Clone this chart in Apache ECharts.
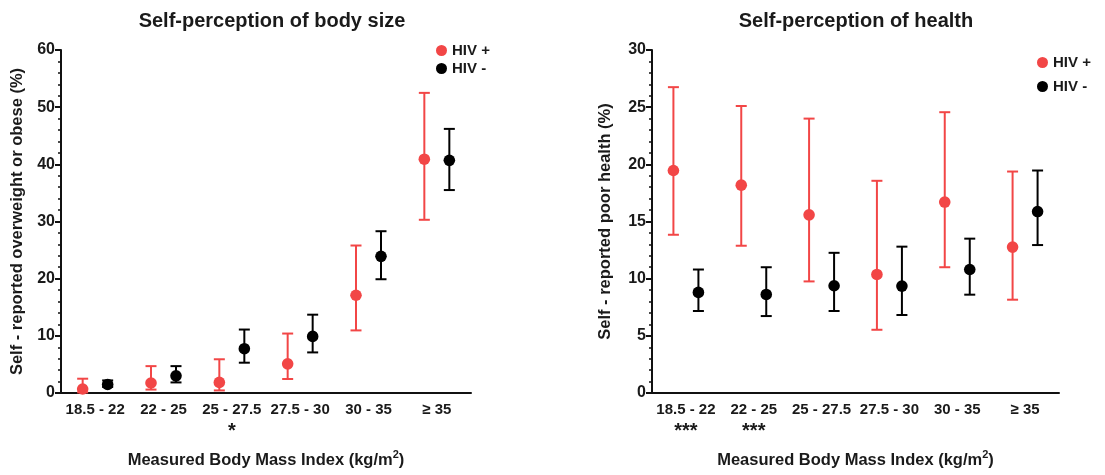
<!DOCTYPE html>
<html>
<head>
<meta charset="utf-8">
<script src="https://cdn.jsdelivr.net/npm/echarts@6/dist/echarts.min.js"></script>
<style>html,body{margin:0;padding:0;background:#fff;}#c{width:1105px;height:475px;}</style>
</head>
<body>
<div id="c"></div>
<script>
// ---- Data ----
const categories = ['18.5 - 22', '22 - 25', '25 - 27.5', '27.5 - 30', '30 - 35', '≥ 35'];

// Self-perception of body size (% self-reported overweight or obese)
const bodyPos     = [0.7, 1.75, 1.85, 5.1, 17.1, 40.9];
const bodyPosLow  = [0.1, 0.6, 0.45, 2.45, 10.95, 30.3];
const bodyPosHigh = [2.5, 4.7, 5.9, 10.4, 25.8, 52.5];
const bodyNeg     = [1.5, 3.0, 7.75, 9.9, 23.9, 40.7];
const bodyNegLow  = [1.05, 1.85, 5.3, 7.1, 19.9, 35.5];
const bodyNegHigh = [2.2, 4.7, 11.1, 13.7, 28.3, 46.2];
const sigBody     = ['', '', '*', '', '', ''];

// Self-perception of health (% self-reported poor health)
const healthPos     = [19.46, 18.18, 15.58, 10.37, 16.7, 12.76];
const healthPosLow  = [13.84, 12.88, 9.76, 5.53, 11.0, 8.16];
const healthPosHigh = [26.75, 25.1, 24.0, 18.56, 24.56, 19.37];
const healthNeg     = [8.8, 8.62, 9.38, 9.35, 10.8, 15.87];
const healthNegLow  = [7.17, 6.73, 7.17, 6.82, 8.6, 12.94];
const healthNegHigh = [10.8, 11.0, 12.26, 12.8, 13.5, 19.46];
const sigHealth     = ['***', '***', '', '', '', ''];

const seriesNames = ['HIV +', 'HIV -'];

// ---- Style ----
const RED = '#f24646';
const BLACK = '#000000';
const TXT = '#1a1a1a';
const FONT = '"Liberation Sans", Arial, Helvetica, sans-serif';

function rows(v, lo, hi) {
  return v.map((d, i) => [i, d, lo[i], hi[i]]);
}

function makeRender(color, offset) {
  return function (params, api) {
    const i = api.value(0);
    const p = api.coord([i, api.value(1)]);
    const lo = api.coord([i, api.value(2)]);
    const hi = api.coord([i, api.value(3)]);
    const x = p[0] + offset;
    const cap = 5.5;
    const ls = { stroke: color, lineWidth: 2 };
    return {
      type: 'group',
      children: [
        { type: 'line', shape: { x1: x, y1: lo[1], x2: x, y2: hi[1] }, style: ls },
        { type: 'line', shape: { x1: x - cap, y1: hi[1], x2: x + cap, y2: hi[1] }, style: ls },
        { type: 'line', shape: { x1: x - cap, y1: lo[1], x2: x + cap, y2: lo[1] }, style: ls },
        { type: 'circle', shape: { cx: x, cy: p[1], r: 5.8 }, style: { fill: color } }
      ]
    };
  };
}

function xAxis(gridIndex, sig) {
  return {
    type: 'category', gridIndex: gridIndex, data: categories, boundaryGap: true,
    axisLine: { lineStyle: { color: '#111', width: 2 } },
    axisTick: { alignWithLabel: true, length: 6, lineStyle: { color: '#111', width: 2 } },
    axisLabel: {
      color: TXT, fontWeight: 'bold', fontSize: 15, fontFamily: FONT, margin: 8, lineHeight: 18,
      interval: 0,
      formatter: (v, idx) => v + (sig[idx] ? '\n{st|' + sig[idx] + '}' : ''),
      rich: {
        st: { fontSize: 20, fontWeight: 'bold', color: TXT, fontFamily: FONT, lineHeight: 20, padding: [4, 0, 0, 0] }
      }
    },
    name: '{a|Measured Body Mass Index (kg/m}{s|2}{a|)}',
    nameLocation: 'middle', nameGap: 56,
    nameTextStyle: {
      rich: {
        a: { fontSize: 16.5, fontWeight: 'bold', color: TXT, fontFamily: FONT, verticalAlign: 'bottom', lineHeight: 20 },
        s: { fontSize: 11, fontWeight: 'bold', color: TXT, fontFamily: FONT, verticalAlign: 'top', lineHeight: 20, padding: [0, 0, 9, 0] }
      }
    }
  };
}

function yAxis(gridIndex, max, interval, name, gap) {
  return {
    type: 'value', gridIndex: gridIndex, min: 0, max: max, interval: interval,
    axisLine: { show: true, lineStyle: { color: '#111', width: 2 } },
    axisTick: { show: true, length: 6, lineStyle: { color: '#111', width: 2 } },
    minorTick: { show: true, splitNumber: 5, length: 3, lineStyle: { color: '#111', width: 1.5 } },
    splitLine: { show: false },
    axisLabel: { color: TXT, fontWeight: 'bold', fontSize: 16, fontFamily: FONT, margin: 6 },
    name: name, nameLocation: 'middle', nameGap: gap, nameRotate: 90,
    nameTextStyle: { color: TXT, fontWeight: 'bold', fontSize: 16.5, fontFamily: FONT }
  };
}

const chart = echarts.init(document.getElementById('c'), null, { renderer: 'canvas' });
chart.setOption({
  animation: false,
  backgroundColor: '#fff',
  title: [
    { text: 'Self-perception of body size', left: 267, top: 6, textAlign: 'center',
      textStyle: { fontSize: 20, fontWeight: 'bold', color: TXT, fontFamily: FONT } },
    { text: 'Self-perception of health', left: 851, top: 6, textAlign: 'center',
      textStyle: { fontSize: 20, fontWeight: 'bold', color: TXT, fontFamily: FONT } }
  ],
  legend: [
    { data: seriesNames.map(n => ({ name: n, icon: 'circle' })), orient: 'vertical', left: 431, top: 38,
      itemWidth: 11, itemHeight: 11, itemGap: 3, selectedMode: false,
      textStyle: { fontSize: 15, fontWeight: 'bold', color: TXT, fontFamily: FONT, lineHeight: 15 } },
    { data: seriesNames.map(n => ({ name: n, icon: 'circle' })), orient: 'vertical', left: 1032, top: 50,
      itemWidth: 11, itemHeight: 11, itemGap: 9, selectedMode: false,
      textStyle: { fontSize: 15, fontWeight: 'bold', color: TXT, fontFamily: FONT, lineHeight: 15 } }
  ],
  grid: [
    { left: 61, top: 50, width: 410, height: 343 },
    { left: 652, top: 50, width: 407, height: 343 }
  ],
  xAxis: [xAxis(0, sigBody), xAxis(1, sigHealth)],
  yAxis: [
    yAxis(0, 60, 10, 'Self - reported overweight or obese (%)', 35),
    yAxis(1, 30, 5, 'Self - reported poor health (%)', 38)
  ],
  series: [
    { name: seriesNames[0], type: 'custom', xAxisIndex: 0, yAxisIndex: 0, itemStyle: { color: RED },
      renderItem: makeRender(RED, -12.5), encode: { x: 0, y: [1, 2, 3] }, data: rows(bodyPos, bodyPosLow, bodyPosHigh) },
    { name: seriesNames[1], type: 'custom', xAxisIndex: 0, yAxisIndex: 0, itemStyle: { color: BLACK },
      renderItem: makeRender(BLACK, 12.5), encode: { x: 0, y: [1, 2, 3] }, data: rows(bodyNeg, bodyNegLow, bodyNegHigh) },
    { name: seriesNames[0], type: 'custom', xAxisIndex: 1, yAxisIndex: 1, itemStyle: { color: RED },
      renderItem: makeRender(RED, -12.5), encode: { x: 0, y: [1, 2, 3] }, data: rows(healthPos, healthPosLow, healthPosHigh) },
    { name: seriesNames[1], type: 'custom', xAxisIndex: 1, yAxisIndex: 1, itemStyle: { color: BLACK },
      renderItem: makeRender(BLACK, 12.5), encode: { x: 0, y: [1, 2, 3] }, data: rows(healthNeg, healthNegLow, healthNegHigh) }
  ]
});
</script>
</body>
</html>
